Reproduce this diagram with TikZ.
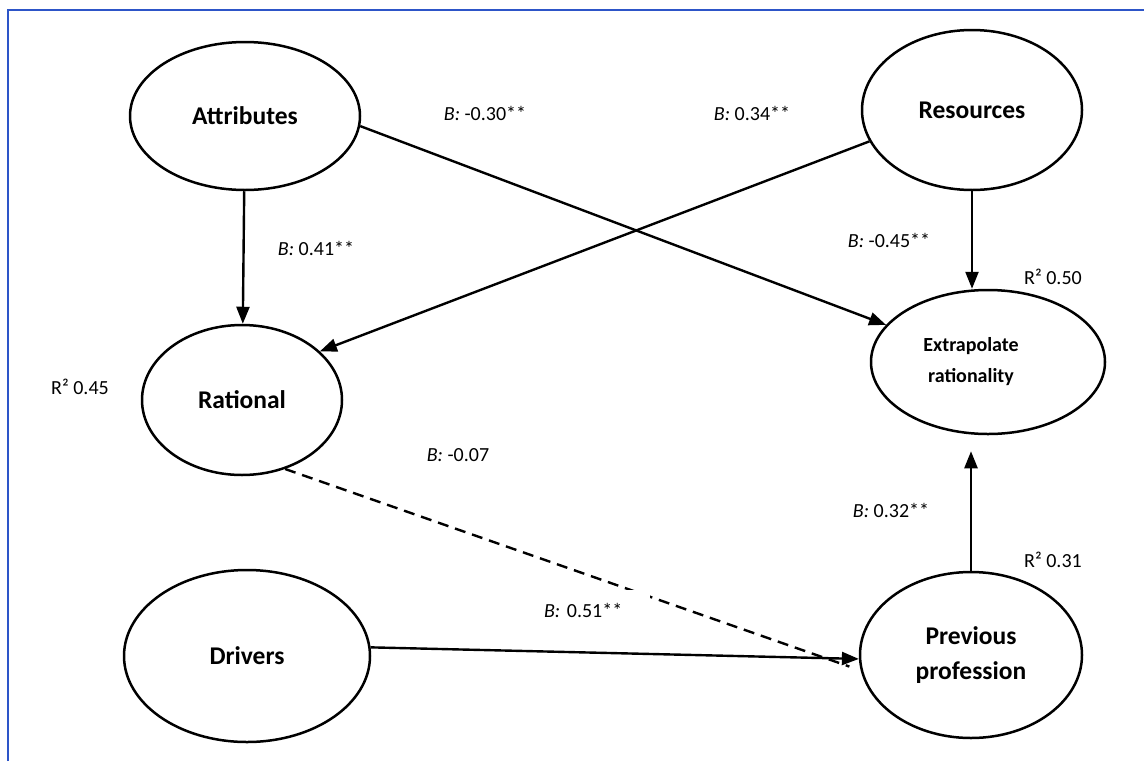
\documentclass[tikz,border=0pt]{standalone}
\usepackage{fontspec}
\setmainfont{Carlito}
\usetikzlibrary{shapes.geometric,arrows.meta}
\definecolor{frameblue}{RGB}{45,85,200}
\begin{document}
\begin{tikzpicture}[x=1pt,y=-1pt,
  latent/.style={draw,ellipse,line width=2.5pt,inner sep=0pt,align=center,font=\fontsize{25.5}{35}\selectfont\bfseries},
  pathline/.style={line width=2.4pt,-{Triangle[length=17pt,width=13pt]}},
  nonsig/.style={line width=2.4pt,dash pattern=on 11pt off 7pt},
  coef/.style={font=\fontsize{20}{24}\selectfont,inner sep=0pt},
]
\useasboundingbox (0,0) rectangle (1144,761);
\draw[frameblue,line width=1.5pt] (8,761) -- (8,10) -- (1144,10);

\node[latent,minimum width=230pt,minimum height=148pt] (attr) at (245,116) {Attributes};
\node[latent,minimum width=220pt,minimum height=160pt] (res) at (972,110) {Resources};
\node[latent,minimum width=200pt,minimum height=150pt] (rat) at (242,400) {Rational};
\node[latent,minimum width=234pt,minimum height=144pt,font=\fontsize{20}{31}\selectfont\bfseries] (extr) at (988,362) {\hspace*{-34pt}Extrapolate\\\hspace*{-34pt}rationality};
\node[latent,minimum width=246pt,minimum height=172pt] (drv) at (247,656) {Drivers};
\node[latent,minimum width=222pt,minimum height=166pt] (prev) at (971,655) {Previous\\profession};

\draw[pathline] (attr) -- (rat);
\draw[pathline] (attr.-5) -- (extr.160);
\draw[pathline] (res.197) -- (rat.32);
\draw[pathline] (res.south) -- (res.south |- extr.north);
\draw[pathline,shorten >=16pt] (prev.north) -- (prev.north |- extr.south);
\draw[pathline] (drv.4) -- (prev.182);
\draw[nonsig,shorten >=12pt] (rat.-58) -- (prev.188);

\node[coef] (l1) at (485,113) {\textit{B:} -0.30**};
\node[coef] (l2) at (752,113) {\textit{B:} 0.34**};
\node[coef] (l3) at (316,248) {\textit{B:} 0.41**};
\node[coef] (l4) at (889,240) {\textit{B:} -0.45**};
\node[coef] (l5) at (1053,277) {R² 0.50};
\node[coef] (l6) at (80,387) {R² 0.45};
\node[coef] (l7) at (458,455) {\textit{B:} -0.07};
\node[coef] (l8) at (891,510) {\textit{B:} 0.32**};
\node[coef] (l9) at (1053,560) {R² 0.31};
\node[coef,fill=white,text width=102pt,align=left,inner xsep=4pt,inner ysep=0pt,minimum height=40pt] (l10) at (595,610) {\textit{B:} 0.51**};
\end{tikzpicture}
\end{document}
